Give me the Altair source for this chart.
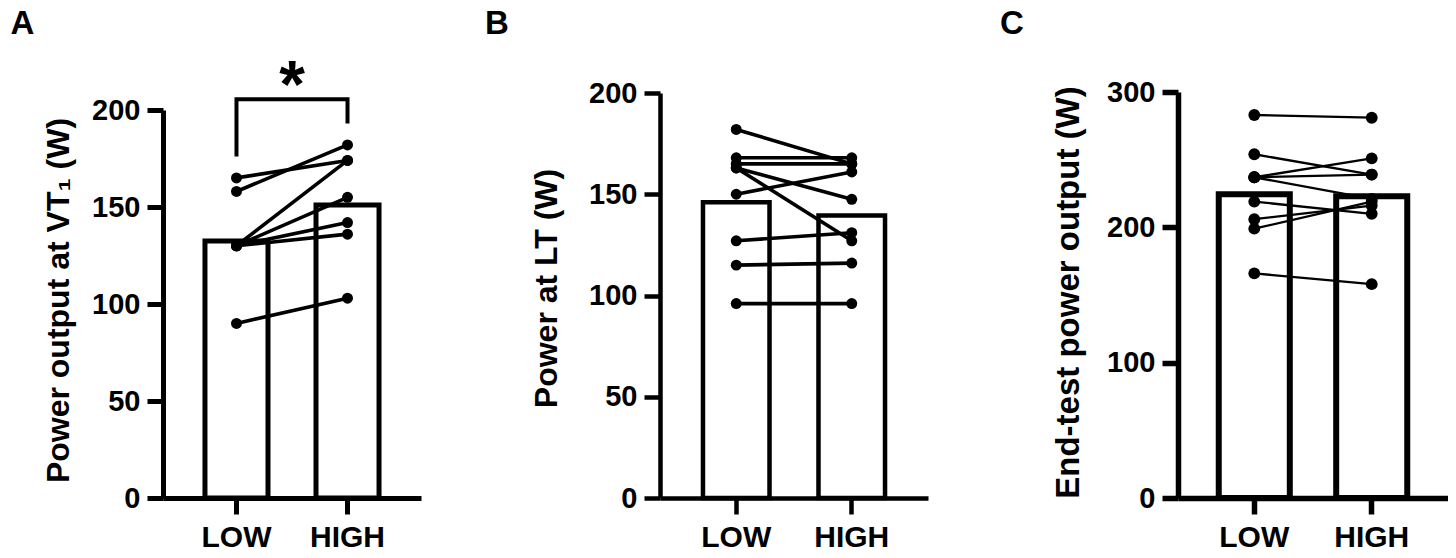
import altair as alt
import pandas as pd

FONT = "Liberation Sans"
groups = ["LOW", "HIGH"]
letters = ["A", "B", "C"]

# Panel A: power output at VT1 (W), paired LOW / HIGH values per participant
vt1_low = [165, 158, 130, 130, 130, 130, 90]
vt1_high = [174, 182, 174, 155, 142, 136, 103]
vt1_bar = [132.5, 151]
bracket_vals = [176, 205.5, 205.5, 193]

# Panel B: power at lactate threshold (W)
lt_low = [182, 168, 165, 163, 163, 150, 127, 115, 96]
lt_high = [165, 168, 165, 147.5, 127, 161, 131, 116, 96]
lt_bar = [146, 139.5]

# Panel C: end-test power output (W)
end_low = [283, 254, 237, 237, 237, 219, 206, 199, 166]
end_high = [281, 239, 251, 239, 221, 210, 216, 219, 158]
end_bar = [224.5, 223]

H = 406  # plot height shared by all panels


def panel(low, high, bars, title, ymax, yticks, ytop, xw, pin, pout, width,
          letter, letter_x, title_x, title_y, title_size, bar_sw, axis_w,
          line_w, dot, extra=None):
    n = len(low)
    pairs = pd.DataFrame({
        "id": list(range(n)) * 2,
        "group": ["LOW"] * n + ["HIGH"] * n,
        "value": low + high,
    })
    means = pd.DataFrame({"group": groups, "value": bars})

    x = alt.X(
        "group:N", sort=groups,
        scale=alt.Scale(type="band", range=[0, xw], paddingInner=pin, paddingOuter=pout),
        axis=alt.Axis(title=None, labelAngle=0, labelFontSize=30, labelPadding=8,
                      domainWidth=axis_w, tickWidth=axis_w, tickSize=16),
    )
    y = alt.Y(
        "value:Q",
        scale=alt.Scale(domain=[0, ymax], range=[H, ytop], nice=False),
        axis=alt.Axis(values=yticks, title=title, titleX=title_x, titleY=title_y,
                      titleAngle=270, titleBaseline="alphabetic", titleAlign="center",
                      titleFontSize=title_size, labelFontSize=29, labelPadding=7,
                      domainWidth=axis_w, tickWidth=axis_w, tickSize=16),
    )

    bar_layer = alt.Chart(means).mark_bar(
        fill="white", stroke="black", strokeWidth=bar_sw, strokeJoin="miter"
    ).encode(x=x, y=y)
    line_layer = alt.Chart(pairs).mark_line(
        color="black", strokeWidth=line_w
    ).encode(x=x, y=y, detail="id:N")
    dot_layer = alt.Chart(pairs).mark_circle(
        color="black", opacity=1, size=dot
    ).encode(x=x, y=y)
    letter_layer = alt.Chart(pd.DataFrame({"panel": [letter]})).mark_text(
        align="left", baseline="top", fontSize=33, fontWeight="bold",
        font=FONT, color="black"
    ).encode(text="panel:N", x=alt.value(letter_x), y=alt.value(-84))

    layers = [bar_layer, line_layer, dot_layer, letter_layer]
    if extra is not None:
        layers += extra(x, y)
    return alt.layer(*layers).properties(width=width, height=H)


def significance(x, y):
    bracket = pd.DataFrame({
        "group": ["LOW", "LOW", "HIGH", "HIGH"],
        "value": bracket_vals,
        "step": [0, 1, 2, 3],
    })
    star = pd.DataFrame({"group": ["LOW"], "value": [bracket_vals[1]], "mark": ["*"]})
    bracket_layer = alt.Chart(bracket).mark_line(
        color="black", strokeWidth=4, strokeJoin="miter", strokeCap="butt"
    ).encode(x=x, y=y, order="step:O")
    star_layer = alt.Chart(star).mark_text(
        baseline="alphabetic", align="center", dx=55.5, dy=8,
        fontSize=66, fontWeight="bold", font=FONT, color="black"
    ).encode(x=x, y=y, text="mark:N")
    return [bracket_layer, star_layer]


pa = panel(vt1_low, vt1_high, vt1_bar, "Power output at VT\u2081 (W)", 200,
           [0, 50, 100, 150, 200], 18, 258, 0.4324, 0.378, 496.8,
           letters[0], -152.5, -95, 208, 32, 5, 5, 3.6, 120, extra=significance)
pb = panel(lt_low, lt_high, lt_bar, "Power at LT (W)", 200,
           [0, 50, 100, 150, 200], 1, 268, 0.424, 0.372, 518,
           letters[1], -175, -104, 196, 32, 4.5, 4.5, 3.6, 120)
pc = panel(end_low, end_high, end_bar, "End-test power output (W)", 300,
           [0, 100, 200, 300], 0, 270, 0.395, 0.347, 270,
           letters[2], -178, -100, 200, 33, 6, 5.5, 2.3, 140)

chart = alt.hconcat(pa, pb, pc, spacing=0, bounds="flush").properties(
    padding={"left": 10, "top": 8, "right": 0, "bottom": 0}
).configure_view(stroke=None).configure_axis(
    grid=False, domainColor="black", tickColor="black",
    labelColor="black", titleColor="black",
    labelFont=FONT, titleFont=FONT,
    labelFontWeight="bold", titleFontWeight="bold",
)

chart.save("out.html", embed_options={"renderer": "svg", "actions": False})
